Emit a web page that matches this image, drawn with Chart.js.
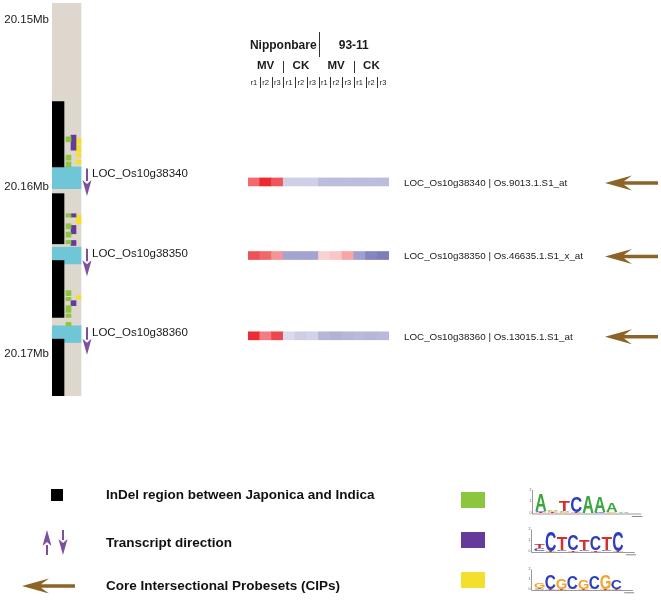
<!DOCTYPE html>
<html>
<head>
<meta charset="utf-8">
<script src="https://cdn.jsdelivr.net/npm/chart.js@4.4.1/dist/chart.umd.min.js"></script>
<style>
  html, body { margin: 0; padding: 0; background: #fff; }
  body { width: 661px; height: 604px; position: relative; overflow: hidden;
         font-family: "Liberation Sans", Arial, Helvetica, sans-serif; color: #111; }
  canvas { position: absolute; }
  #track { left: 0; top: 3px; }
  #heat { left: 248px; top: 3px; }
  #legend { left: 0; top: 470px; }
  .lg { position: absolute; left: 106px; font-weight: bold; font-size: 13.5px; line-height: 16px; white-space: nowrap; }
</style>
</head>
<body>
<canvas id="track" width="240" height="393"></canvas>
<canvas id="heat" width="413" height="393"></canvas>
<canvas id="legend" width="661" height="134"></canvas>
<div class="lg" style="top:487px">InDel region between Japonica and Indica</div>
<div class="lg" style="top:535px">Transcript direction</div>
<div class="lg" style="top:578px">Core Intersectional Probesets (CIPs)</div>

<script>
// ---- data (positions in Mb on chromosome 10) ----
const REGION_MB = [20.149, 20.1725];
const TICKS_MB = [20.15, 20.16, 20.17];

const INDELS = [[20.1549, 20.1588], [20.1604, 20.1634], [20.1644, 20.1678], [20.1691, 20.1725]];

const GENES = ["LOC_Os10g38340", "LOC_Os10g38350", "LOC_Os10g38360"];
const GENE_SPANS = [[20.1588, 20.1601], [20.1636, 20.1646], [20.1683, 20.1693]];

// cis-element hits (green: A.TCAAA, purple: CTCTCTC, yellow: CGCGCGC)
const GREEN_SITES = [[20.1570, 20.1573], [20.1581, 20.1584], [20.1585, 20.1588], [20.1616, 20.1618],
  [20.1622, 20.1625], [20.1627, 20.1630], [20.1632, 20.1634], [20.1662, 20.1665], [20.1666, 20.1668],
  [20.1671, 20.1675], [20.1676, 20.1678], [20.1681, 20.1683]];
const PURPLE_SITES = [[20.1569, 20.1578], [20.1616, 20.1618], [20.1623, 20.1628], [20.1632, 20.1635], [20.1668, 20.1671]];
const YELLOW_SITES = [[20.1571, 20.1574], [20.1575, 20.1579], [20.1580, 20.1582], [20.1584, 20.1586],
  [20.1617, 20.1622], [20.1665, 20.1667]];

// expression heatmap
const GENOTYPES = ["Nipponbare", "93-11"];
const TREATMENTS = ["MV", "CK"];
const REPLICATES = ["r1", "r2", "r3"];
const PROBESETS = ["LOC_Os10g38340 | Os.9013.1.S1_at", "LOC_Os10g38350 | Os.46635.1.S1_x_at", "LOC_Os10g38360 | Os.13015.1.S1_at"];
const PROBE_MB = [20.1597, 20.1641, 20.1689];
const EXPR_38340 = [0.66, 0.95, 0.75, -0.31, -0.31, -0.31, -0.43, -0.43, -0.43, -0.43, -0.43, -0.43];
const EXPR_38350 = [0.77, 0.67, 0.48, -0.59, -0.59, -0.59, 0.21, 0.26, 0.40, -0.61, -0.79, -0.83];
const EXPR_38360 = [0.93, 0.58, 0.82, -0.24, -0.32, -0.29, -0.47, -0.50, -0.47, -0.45, -0.47, -0.45];

// sequence logos: each column is stacked bottom->top as [letter, bits]
const LOGO_GREEN = [
  [["T", 0.06], ["C", 0.08], ["A", 1.45]],
  [["T", 0.06], ["G", 0.08], ["A", 0.1]],
  [["G", 0.06], ["A", 0.08], ["T", 0.85]],
  [["T", 0.05], ["C", 1.35]],
  [["G", 0.04], ["A", 1.4]],
  [["C", 0.05], ["A", 1.35]],
  [["G", 0.06], ["A", 0.8]],
  [["T", 0.04], ["A", 0.06]],
];
const LOGO_PURPLE = [
  [["G", 0.08], ["C", 0.2], ["T", 0.35]],
  [["T", 0.06], ["C", 1.75]],
  [["C", 0.1], ["T", 1.15]],
  [["T", 0.08], ["C", 1.45]],
  [["C", 0.1], ["T", 0.95]],
  [["T", 0.08], ["C", 1.35]],
  [["C", 0.1], ["T", 1.15]],
  [["T", 0.06], ["C", 1.75]],
];
const LOGO_YELLOW = [
  [["A", 0.08], ["T", 0.1], ["G", 0.45]],
  [["T", 0.06], ["C", 1.4]],
  [["T", 0.08], ["G", 1.05]],
  [["G", 0.06], ["C", 1.25]],
  [["T", 0.08], ["G", 0.85]],
  [["G", 0.06], ["C", 1.25]],
  [["T", 0.06], ["G", 1.5]],
  [["T", 0.08], ["C", 0.9]],
];

// ---- styles / layout ----
const COL = {
  column: "#ddd7cd", indel: "#000000", gene: "#6ec6d6",
  green: "#8cc63f", purple: "#643a9b", yellow: "#f4e02c",
  strand: "#7d4f9f", cip: "#8c6428", text: "#1a1a1a",
  A: "#3aa63d", C: "#2b3fbf", G: "#f2a52b", T: "#d32f2f",
};
const FONT = '"Liberation Sans", Arial, Helvetica, sans-serif';
// lanes in the track chart (x units = px across the track)
const LANE = {
  column: { x: 14.5, w: 29 }, indel: { x: 6, w: 12 }, gene: { x: 14.5, w: 29 },
  green: { x: 16.5, w: 5 }, purple: { x: 21.5, w: 5 }, yellow: { x: 26.5, w: 5 },
  arrowX: 35, labelX: 40,
};
const CELL_HALF_MB = 0.00024;

Chart.defaults.font.family = FONT;

function drawStrandArrow(ctx, x, yTail, yTip, color) {
  const dir = Math.sign(yTip - yTail);
  const headLen = 15, half = 4.5;
  ctx.save();
  ctx.strokeStyle = color;
  ctx.fillStyle = color;
  ctx.lineWidth = 2;
  ctx.beginPath();
  ctx.moveTo(x, yTail);
  ctx.lineTo(x, yTip - dir * headLen);
  ctx.stroke();
  ctx.beginPath();
  ctx.moveTo(x - half, yTip - dir * (headLen + 1));
  ctx.lineTo(x, yTip - dir * (headLen - 3));
  ctx.lineTo(x + half, yTip - dir * (headLen + 1));
  ctx.lineTo(x, yTip);
  ctx.closePath();
  ctx.fill();
  ctx.restore();
}

function drawCipArrow(ctx, xTip, y, len, color) {
  ctx.save();
  ctx.fillStyle = color;
  ctx.beginPath();
  ctx.moveTo(xTip, y);
  ctx.lineTo(xTip + 27, y - 7.5);
  ctx.lineTo(xTip + 19, y - 1.7);
  ctx.lineTo(xTip + len, y - 1.7);
  ctx.lineTo(xTip + len, y + 1.7);
  ctx.lineTo(xTip + 19, y + 1.7);
  ctx.lineTo(xTip + 27, y + 7.5);
  ctx.closePath();
  ctx.fill();
  ctx.restore();
}

function heatColor(v) {
  const t = Math.min(1, Math.abs(v));
  const c = v >= 0 ? [234, 30, 36] : [100, 100, 175];
  const mix = (a) => Math.round(255 + (a - 255) * t);
  return `rgb(${mix(c[0])},${mix(c[1])},${mix(c[2])})`;
}

function spanBars(spans, lane, color) {
  return {
    data: spans.map((s) => ({ x: lane.x, y: s })),
    backgroundColor: color,
    borderWidth: 0,
    barThickness: lane.w,
    stack: "track",
  };
}

// ---- genome track ----
const geneDecor = {
  id: "geneDecor",
  afterDatasetsDraw(chart) {
    const { ctx, scales: { x, y } } = chart;
    GENES.forEach((name, i) => {
      const top = y.getPixelForValue(GENE_SPANS[i][0]);
      drawStrandArrow(ctx, x.getPixelForValue(LANE.arrowX), top + 1.5, top + 29, COL.strand);
      ctx.save();
      ctx.fillStyle = COL.text;
      ctx.font = `11.5px ${FONT}`;
      ctx.textBaseline = "middle";
      ctx.fillText(name, x.getPixelForValue(LANE.labelX), top + 7);
      ctx.restore();
    });
  },
};

new Chart(document.getElementById("track"), {
  type: "bar",
  data: {
    datasets: [
      spanBars(INDELS, LANE.indel, COL.indel),
      spanBars(GREEN_SITES, LANE.green, COL.green),
      spanBars(PURPLE_SITES, LANE.purple, COL.purple),
      spanBars(YELLOW_SITES, LANE.yellow, COL.yellow),
      spanBars(GENE_SPANS, LANE.gene, COL.gene),
      spanBars([REGION_MB], LANE.column, COL.column),
    ],
  },
  options: {
    responsive: false,
    animation: false,
    events: [],
    layout: { padding: 0 },
    plugins: { legend: { display: false }, tooltip: { enabled: false } },
    scales: {
      x: { type: "linear", display: false, min: 0, max: 188, offset: false },
      y: {
        type: "linear",
        reverse: true,
        stacked: false,
        min: REGION_MB[0],
        max: REGION_MB[1],
        grid: { display: false, drawTicks: false },
        border: { display: false },
        ticks: { color: COL.text, padding: 3, font: { size: 11.5 }, callback: (v) => v.toFixed(2) + "Mb" },
        afterBuildTicks: (s) => { s.ticks = TICKS_MB.map((v) => ({ value: v })); },
        afterFit: (s) => { s.width = 52; s.paddingTop = 0; s.paddingBottom = 0; },
      },
    },
  },
  plugins: [geneDecor],
});

// ---- expression heatmap ----
const sampleLabels = [];
GENOTYPES.forEach((g) => TREATMENTS.forEach((t) => REPLICATES.forEach((r) => sampleLabels.push(`${g} ${t} ${r}`))));
const exprRows = [EXPR_38340, EXPR_38350, EXPR_38360];

const heatDecor = {
  id: "heatDecor",
  afterDatasetsDraw(chart) {
    const { ctx, chartArea, scales: { x, y } } = chart;
    const n = sampleLabels.length;
    const edge = (i) => i <= 0 ? x.getPixelForValue(0) - (x.getPixelForValue(1) - x.getPixelForValue(0)) / 2
      : i >= n ? x.getPixelForValue(n - 1) + (x.getPixelForValue(1) - x.getPixelForValue(0)) / 2
      : (x.getPixelForValue(i - 1) + x.getPixelForValue(i)) / 2;
    const line = (px, y0, y1) => {
      const xx = Math.round(px) + 0.5;
      ctx.beginPath(); ctx.moveTo(xx, y0); ctx.lineTo(xx, y1); ctx.stroke();
    };
    ctx.save();
    ctx.fillStyle = COL.text;
    ctx.strokeStyle = "#333";
    ctx.lineWidth = 1;
    ctx.textAlign = "center";
    ctx.textBaseline = "middle";

    const perGeno = TREATMENTS.length * REPLICATES.length;
    ctx.font = `bold 12px ${FONT}`;
    GENOTYPES.forEach((g, gi) => {
      ctx.fillText(g, (edge(gi * perGeno) + edge((gi + 1) * perGeno)) / 2, 43);
      if (gi > 0) line(edge(gi * perGeno), 29, 54);
    });
    ctx.font = `bold 11.5px ${FONT}`;
    for (let k = 0; k < GENOTYPES.length * TREATMENTS.length; k++) {
      const a = k * REPLICATES.length, b = a + REPLICATES.length;
      ctx.fillText(TREATMENTS[k % TREATMENTS.length], (edge(a) + edge(b)) / 2, 63);
      if (k % TREATMENTS.length > 0) line(edge(a), 58, 70);
    }
    ctx.font = `7.5px ${FONT}`;
    for (let i = 0; i < n; i++) {
      ctx.fillText(REPLICATES[i % REPLICATES.length], x.getPixelForValue(i), 79.5);
      if (i > 0) line(edge(i), 74, 85);
    }

    ctx.textAlign = "left";
    ctx.font = `9.8px ${FONT}`;
    PROBESETS.forEach((p, i) => {
      const py = y.getPixelForValue(PROBE_MB[i]);
      ctx.fillText(p, chartArea.right + 15, py + 1);
      drawCipArrow(ctx, chartArea.right + 216, py + 1, 53, COL.cip);
    });
    ctx.restore();
  },
};

new Chart(document.getElementById("heat"), {
  type: "bar",
  data: {
    labels: sampleLabels,
    datasets: exprRows.map((vals, r) => ({
      label: PROBESETS[r],
      data: vals.map(() => [PROBE_MB[r] - CELL_HALF_MB, PROBE_MB[r] + CELL_HALF_MB]),
      backgroundColor: vals.map(heatColor),
      borderWidth: 0,
      categoryPercentage: 1,
      barPercentage: 1,
      stack: "heat",
    })),
  },
  options: {
    responsive: false,
    animation: false,
    events: [],
    layout: { padding: { right: 272 } },
    plugins: { legend: { display: false }, tooltip: { enabled: false } },
    scales: {
      x: { type: "category", display: false, offset: true },
      y: { type: "linear", display: false, reverse: true, stacked: false, min: REGION_MB[0], max: REGION_MB[1] },
    },
  },
  plugins: [heatDecor],
});

// ---- legend ----
function drawLogo(ctx, x0, baseline, colW, bitPx, columns) {
  ctx.save();
  ctx.strokeStyle = "#555";
  ctx.lineWidth = 0.6;
  ctx.beginPath();
  ctx.moveTo(x0 - 2.5, baseline - 2 * bitPx);
  ctx.lineTo(x0 - 2.5, baseline + 1);
  ctx.lineTo(x0 + colW * (columns.length + 1), baseline + 1);
  ctx.stroke();
  ctx.fillStyle = "#555";
  ctx.font = `3.5px ${FONT}`;
  ctx.textAlign = "right";
  ctx.textBaseline = "middle";
  ["0", "1", "2"].forEach((t, i) => ctx.fillText(t, x0 - 3.5, baseline - i * bitPx));
  ctx.fillRect(x0 + colW * (columns.length + 0.2), baseline + 3, colW * 0.9, 0.7);
  ctx.textAlign = "left";
  ctx.textBaseline = "alphabetic";
  ctx.font = `bold 100px ${FONT}`;
  columns.forEach((stack, ci) => {
    let yb = baseline;
    stack.forEach(([letter, bits]) => {
      const h = bits * bitPx;
      const m = ctx.measureText(letter);
      const gw = m.actualBoundingBoxLeft + m.actualBoundingBoxRight;
      const gh = m.actualBoundingBoxAscent + m.actualBoundingBoxDescent;
      ctx.save();
      ctx.fillStyle = COL[letter];
      ctx.translate(x0 + ci * colW + 0.4, yb);
      ctx.scale((colW - 0.8) / gw, h / gh);
      ctx.fillText(letter, m.actualBoundingBoxLeft, -m.actualBoundingBoxDescent);
      ctx.restore();
      yb -= h;
    });
  });
  ctx.restore();
}

(function drawLegend() {
  const ctx = document.getElementById("legend").getContext("2d");
  ctx.fillStyle = COL.indel;
  ctx.fillRect(51, 19, 12, 12);
  drawStrandArrow(ctx, 47, 85, 60, COL.strand);
  drawStrandArrow(ctx, 63, 60, 85, COL.strand);
  drawCipArrow(ctx, 22, 116, 53, COL.cip);

  [COL.green, COL.purple, COL.yellow].forEach((c, i) => {
    ctx.fillStyle = c;
    ctx.fillRect(461, 22 + i * 40, 24, 16);
  });
  drawLogo(ctx, 535, 43, 11.8, 11.5, LOGO_GREEN);
  drawLogo(ctx, 534, 81.5, 11.2, 11, LOGO_PURPLE);
  drawLogo(ctx, 534, 119.5, 11, 10, LOGO_YELLOW);
})();
</script>
</body>
</html>
